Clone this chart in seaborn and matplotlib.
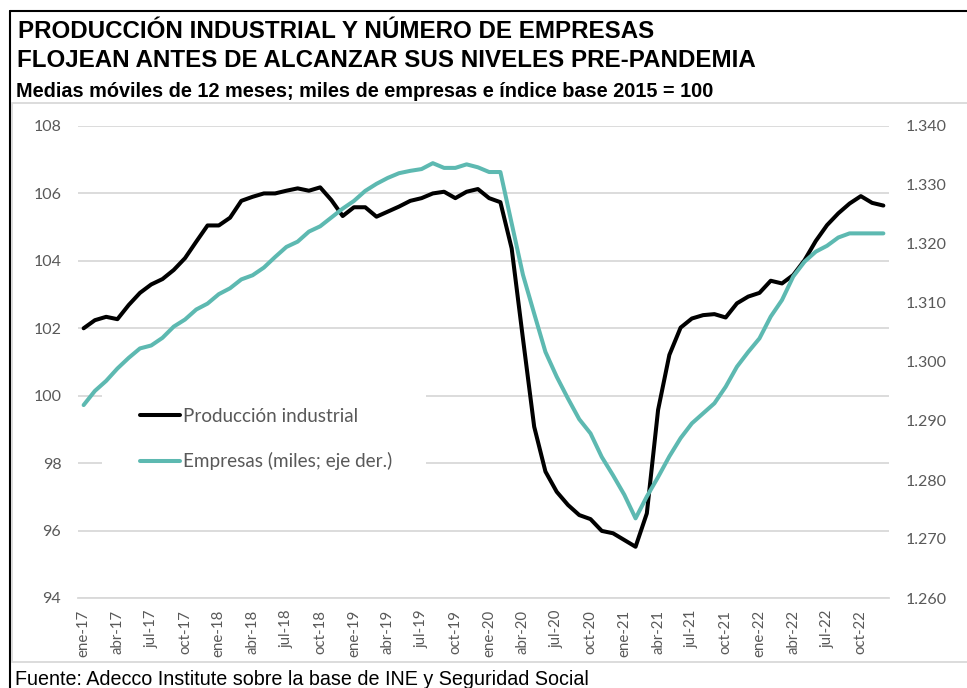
import numpy as np
import pandas as pd
import matplotlib
matplotlib.use("Agg")
import matplotlib.pyplot as plt
import seaborn as sns
from matplotlib.lines import Line2D
from matplotlib.patches import Rectangle
from matplotlib.ticker import FuncFormatter

# ---------------- data ----------------
meses = ["ene", "feb", "mar", "abr", "may", "jun", "jul", "ago", "sep", "oct", "nov", "dic"]
anios = ["17", "18", "19", "20", "21", "22"]
fechas = [f"{m}-{a}" for a in anios for m in meses]

# Producción industrial (índice base 2015 = 100), media móvil 12 meses
produccion = [
    102.00, 102.24, 102.34, 102.27, 102.69, 103.05, 103.30, 103.46, 103.73, 104.08, 104.57, 105.05,
    105.05, 105.28, 105.78, 105.90, 106.00, 106.00, 106.08, 106.15, 106.08, 106.18, 105.80, 105.33,
    105.59, 105.59, 105.31, 105.46, 105.61, 105.78, 105.86, 106.00, 106.05, 105.86, 106.05, 106.13,
    105.86, 105.74, 104.37, 101.70, 99.08, 97.75, 97.15, 96.76, 96.46, 96.34, 95.99, 95.92,
    95.72, 95.52, 96.51, 99.58, 101.21, 102.02, 102.29, 102.39, 102.42, 102.32, 102.74, 102.94,
    103.05, 103.41, 103.33, 103.58, 104.02, 104.59, 105.06, 105.41, 105.70, 105.92, 105.72, 105.64,
]

# Empresas (miles), media móvil 12 meses
empresas = [
    1292.7, 1295.1, 1296.8, 1298.9, 1300.7, 1302.3, 1302.8, 1304.1, 1306.0, 1307.2, 1308.9, 1309.9,
    1311.5, 1312.5, 1314.0, 1314.7, 1316.0, 1317.8, 1319.5, 1320.4, 1322.1, 1323.0, 1324.5, 1326.0,
    1327.3, 1329.0, 1330.2, 1331.2, 1332.0, 1332.4, 1332.7, 1333.7, 1332.9, 1332.9, 1333.5, 1333.0,
    1332.2, 1332.2, 1323.5, 1314.8, 1308.2, 1301.7, 1297.5, 1293.8, 1290.3, 1287.9, 1283.9, 1280.8,
    1277.5, 1273.5, 1277.2, 1280.5, 1284.0, 1287.1, 1289.6, 1291.3, 1293.0, 1295.8, 1299.2, 1301.7,
    1304.0, 1307.7, 1310.5, 1314.5, 1317.0, 1318.7, 1319.7, 1321.1, 1321.8, 1321.8, 1321.8, 1321.8,
]

serie_prod = "Producción industrial"
serie_emp = "Empresas (miles; eje der.)"

titulo1 = "PRODUCCIÓN INDUSTRIAL Y NÚMERO DE EMPRESAS"
titulo2 = "FLOJEAN ANTES DE ALCANZAR SUS NIVELES PRE-PANDEMIA"
subtitulo = "Medias móviles de 12 meses; miles de empresas e índice base 2015 = 100"
fuente = "Fuente: Adecco Institute sobre la base de INE y Seguridad Social"

df = pd.DataFrame({"pos": np.arange(len(fechas)), "fecha": fechas,
                   "produccion": produccion, "empresas": empresas})

# ---------------- style ----------------
sns.set_theme(style="white")
plt.rcParams["font.family"] = ["Lato", "DejaVu Sans"]

NEGRO = "#000000"
TEAL = "#5DB9B1"
GRIS_TXT = "#595959"
GRIS_LIN = "#D9D9D9"

W, H = 967, 688
fig = plt.figure(figsize=(W / 100, H / 100), dpi=100)

def fx(px):
    return px / W

def fy(py):
    return 1 - py / H

ax = fig.add_axes([fx(78), fy(598), fx(889) - fx(78), fy(126) - fy(598)])
ax2 = ax.twinx()

sns.lineplot(data=df, x="pos", y="produccion", ax=ax, color=NEGRO, lw=2.9, legend=False)
sns.lineplot(data=df, x="pos", y="empresas", ax=ax2, color=TEAL, lw=2.9, legend=False)

ax.set_xlim(-0.5, len(fechas) - 0.5)
ax.set_ylim(94, 108)
ax.set_yticks(np.arange(94, 109, 2))
ax2.set_ylim(1260, 1340)
ax2.set_yticks(np.arange(1260, 1341, 10))
ax2.yaxis.set_major_formatter(FuncFormatter(lambda v, p: f"{v:,.0f}".replace(",", ".")))

ax.set_xlabel("")
ax.set_ylabel("")
ax2.set_ylabel("")

ax.yaxis.grid(True, color=GRIS_LIN, lw=1.3)
ax.xaxis.grid(False)
ax.set_axisbelow(True)

for s in ["top", "left", "right"]:
    ax.spines[s].set_visible(False)
    ax2.spines[s].set_visible(False)
ax2.spines["bottom"].set_visible(False)
ax.spines["bottom"].set_color(GRIS_LIN)
ax.spines["bottom"].set_linewidth(1.3)

# x ticks: marks at category boundaries, labels on categories
ax.set_xticks(np.arange(-0.5, len(fechas), 3))
ax.set_xticks(df["pos"][::3], df["fecha"][::3], minor=True)
ax.tick_params(axis="x", which="major", length=3.8, width=1.2, color=GRIS_LIN,
               labelbottom=False, direction="out")
ax.tick_params(axis="x", which="minor", length=0, pad=8.5, labelsize=10.8,
               labelcolor=GRIS_TXT, labelrotation=90)

ax.tick_params(axis="y", length=0, pad=12, labelsize=11.5, labelcolor=GRIS_TXT)
ax2.tick_params(axis="y", length=0, pad=12, labelsize=11.5, labelcolor=GRIS_TXT)

# legend with white background hiding gridlines
fig.add_artist(Rectangle((fx(102), fy(490)), fx(426) - fx(102), fy(388) - fy(490),
                         transform=fig.transFigure, facecolor="white", edgecolor="none", zorder=1))
handles = [Line2D([], [], color=NEGRO, lw=2.9), Line2D([], [], color=TEAL, lw=2.9)]
fs_leg = 13.6
fig.legend(handles, [serie_prod, serie_emp], loc="center left",
           bbox_to_anchor=(fx(140), fy(439)), bbox_transform=fig.transFigure,
           frameon=False, fontsize=fs_leg, labelcolor=GRIS_TXT,
           handlelength=40 / (fs_leg * 100 / 72), handletextpad=3 / (fs_leg * 100 / 72),
           labelspacing=1.45, borderpad=0, borderaxespad=0).set_zorder(5)

# frame lines
fig.add_artist(Line2D([fx(10), fx(10)], [0, fy(11)], color="black", lw=1.5, transform=fig.transFigure))
fig.add_artist(Line2D([fx(10), 1], [fy(11), fy(11)], color="black", lw=1.5, transform=fig.transFigure))
fig.add_artist(Line2D([fx(12), 1], [fy(103), fy(103)], color=GRIS_LIN, lw=1.3, transform=fig.transFigure))
fig.add_artist(Line2D([fx(12), 1], [fy(662), fy(662)], color=GRIS_LIN, lw=1.3, transform=fig.transFigure))
fig.add_artist(Line2D([fx(12), fx(12)], [fy(662), fy(103)], color=GRIS_LIN, lw=1.3, transform=fig.transFigure))

# titles
tfont = ["Liberation Sans", "DejaVu Sans"]
fig.text(fx(18), fy(38.3), titulo1, family=tfont, weight="bold", fontsize=17.4, va="baseline", color="black")
fig.text(fx(17), fy(66.7), titulo2, family=tfont, weight="bold", fontsize=17.4, va="baseline", color="black")
fig.text(fx(16), fy(96.7), subtitulo, family=tfont, weight="bold", fontsize=14.3, va="baseline", color="black")
fig.text(fx(15), fy(685), fuente, family=tfont, fontsize=14.2, va="baseline", color="black")

fig.savefig("out.png", dpi=100)
